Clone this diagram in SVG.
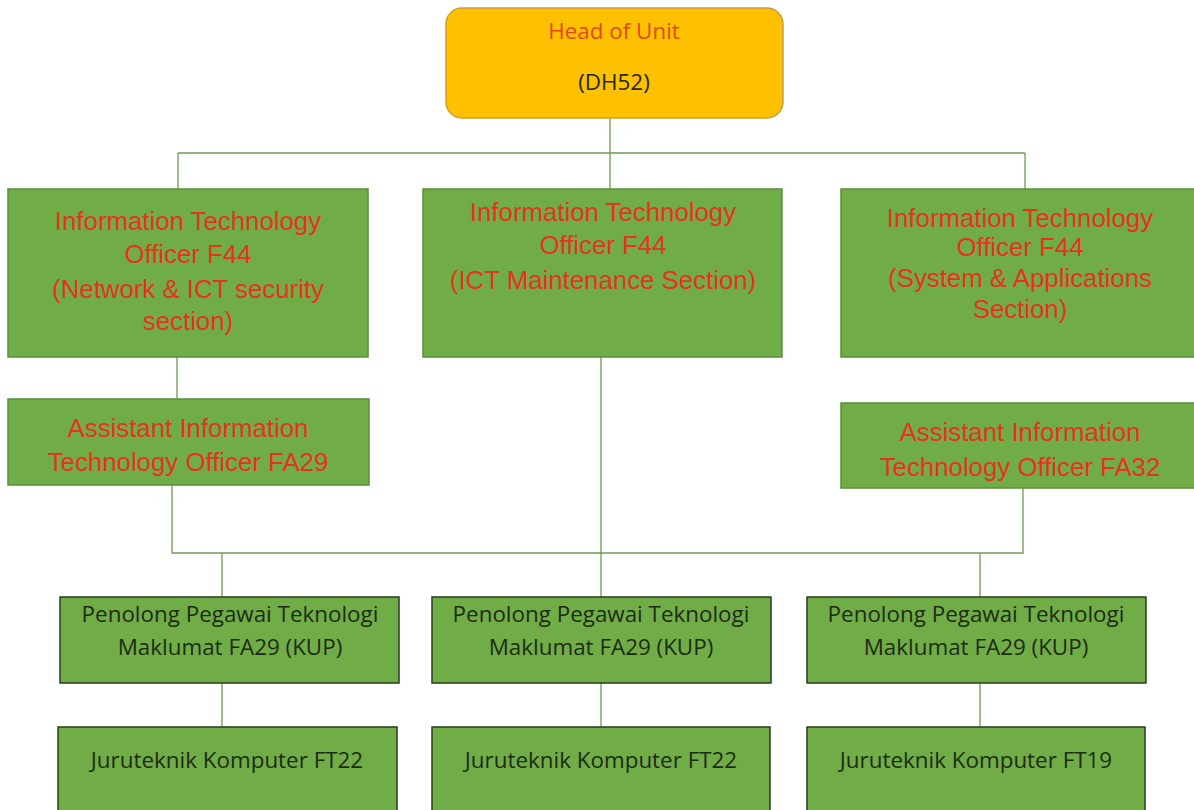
<svg xmlns="http://www.w3.org/2000/svg" width="1194" height="810" viewBox="0 0 1194 810">
<style>
.g{fill:#70AD47;stroke:#5B8F3A;stroke-width:1.5}
.gd{fill:#70AD47;stroke:#2A3D1C;stroke-width:1.5}
.r{font-family:"Liberation Sans",Arial,sans-serif;font-size:25.8px;fill:#E8321E;text-anchor:middle}
.k{font-family:"Open Sans","Noto Sans",sans-serif;font-size:22.4px;fill:#1E2B14;text-anchor:middle}
.c{fill:none;stroke:#6E9B52;stroke-width:1.3}
</style>
<rect width="1194" height="810" fill="#ffffff"/>
<g id="connectors">
<path class="c" d="M610 118V190M178 153H1025M178 153V190M1025 153V190"/>
<path class="c" d="M177 357V399M172 485V553H1023V488M222 553V597M980 553V597M601 357V597"/>
<path class="c" d="M222 683V727M601 683V727M980 683V727"/>
</g>
<g id="head">
<rect x="446" y="8" width="337" height="110" rx="16" fill="#FFC000" stroke="#C9A030" stroke-width="1.5"/>
<text x="614" y="39" class="k" style="fill:#E04A1A">Head of Unit</text>
<text x="614" y="90" class="k">(DH52)</text>
</g>
<g id="ito-network">
<rect class="g" x="8" y="189" width="360" height="168"/>
<text class="r" x="188" y="230">Information Technology</text>
<text class="r" x="188" y="263">Officer F44</text>
<text class="r" x="188" y="298">(Network &amp; ICT security</text>
<text class="r" x="188" y="330">section)</text>
</g>
<g id="ito-maintenance">
<rect class="g" x="423" y="189" width="359" height="168"/>
<text class="r" x="603" y="221">Information Technology</text>
<text class="r" x="603" y="254">Officer F44</text>
<text class="r" x="603" y="289">(ICT Maintenance Section)</text>
</g>
<g id="ito-system">
<rect class="g" x="841" y="189" width="360" height="168"/>
<text class="r" x="1020" y="227">Information Technology</text>
<text class="r" x="1020" y="256">Officer F44</text>
<text class="r" x="1020" y="287">(System &amp; Applications</text>
<text class="r" x="1020" y="318">Section)</text>
</g>
<g id="aito-fa29">
<rect class="g" x="8" y="399" width="361" height="86"/>
<text class="r" x="188" y="437">Assistant Information</text>
<text class="r" x="188" y="471">Technology Officer FA29</text>
</g>
<g id="aito-fa32">
<rect class="g" x="841" y="403" width="360" height="85"/>
<text class="r" x="1020" y="441">Assistant Information</text>
<text class="r" x="1020" y="476">Technology Officer FA32</text>
</g>
<g id="ppptm-1">
<rect class="gd" x="60" y="597" width="339" height="86"/>
<text class="k" x="230" y="622">Penolong Pegawai Teknologi</text>
<text class="k" x="230" y="655">Maklumat FA29 (KUP)</text>
</g>
<g id="ppptm-2">
<rect class="gd" x="432" y="597" width="339" height="86"/>
<text class="k" x="601" y="622">Penolong Pegawai Teknologi</text>
<text class="k" x="601" y="655">Maklumat FA29 (KUP)</text>
</g>
<g id="ppptm-3">
<rect class="gd" x="807" y="597" width="339" height="86"/>
<text class="k" x="976" y="622">Penolong Pegawai Teknologi</text>
<text class="k" x="976" y="655">Maklumat FA29 (KUP)</text>
</g>
<g id="jtk-1">
<rect class="gd" x="58" y="727" width="339" height="90"/>
<text class="k" x="227" y="768">Juruteknik Komputer FT22</text>
</g>
<g id="jtk-2">
<rect class="gd" x="432" y="727" width="338" height="90"/>
<text class="k" x="601" y="768">Juruteknik Komputer FT22</text>
</g>
<g id="jtk-3">
<rect class="gd" x="807" y="727" width="338" height="90"/>
<text class="k" x="976" y="768">Juruteknik Komputer FT19</text>
</g>
</svg>
